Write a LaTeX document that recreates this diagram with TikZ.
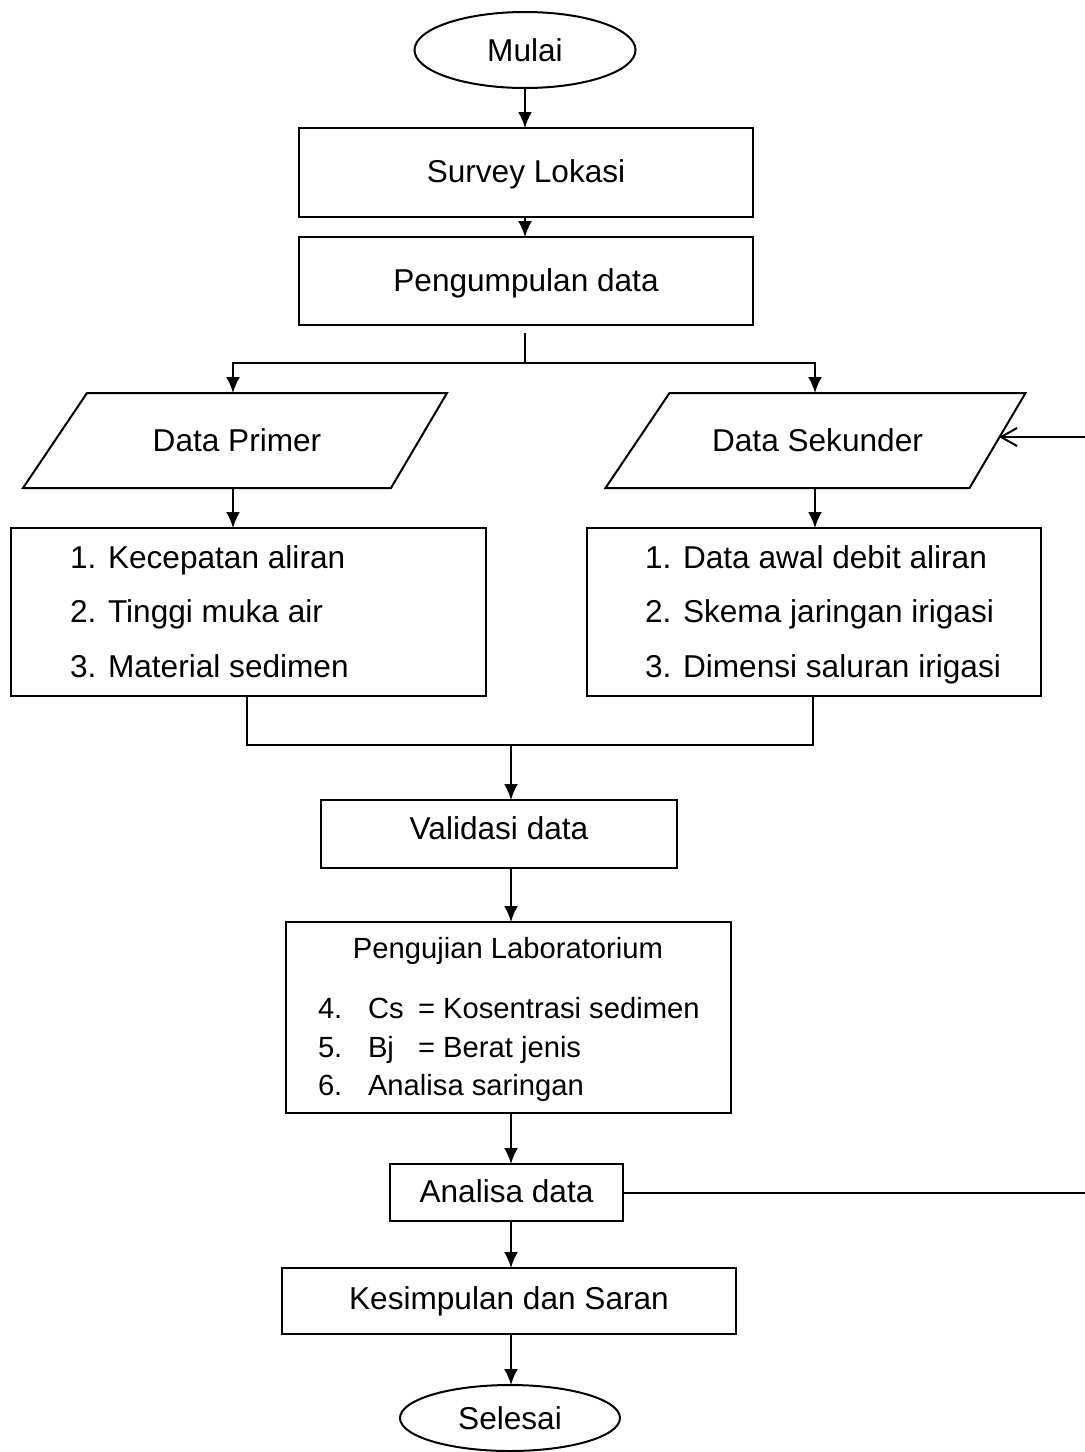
\documentclass[tikz,border=0pt]{standalone}
\usepackage{fontspec}
\setmainfont{Liberation Sans}
\usetikzlibrary{shapes.geometric,arrows.meta,calc}
\begin{document}
\begin{tikzpicture}[x=0.5pt,y=-0.5pt,
  every node/.style={inner sep=0pt,outer sep=0pt},
  box/.style={draw,line width=1pt,rectangle,font=\fontsize{15.8pt}{19pt}\selectfont,text height=12pt,text depth=2pt},
  term/.style={draw,line width=1pt,ellipse,font=\fontsize{15.8pt}{19pt}\selectfont},
  para/.style={rectangle,minimum height=47.5pt,font=\fontsize{15.8pt}{19pt}\selectfont},
  txt/.style={anchor=west,font=\fontsize{15.8pt}{19pt}\selectfont,text height=12pt,text depth=2pt},
  labtxt/.style={anchor=west,font=\fontsize{14.6pt}{18pt}\selectfont,text height=10.5pt,text depth=2pt},
  line/.style={line width=1pt},
  arr/.style={line width=1pt,-{Latex[length=8pt,width=7pt]}},
  barb/.style={line width=1pt,-{Straight Barb[length=8pt,width=9pt]}}]
\useasboundingbox (0,0) rectangle (1084,1452);

% terminals and boxes
\node[term,minimum width=110.5pt,minimum height=38pt] (mulai) at (525,50) {Mulai};
\node[box,minimum width=227pt,minimum height=44.5pt] (surv) at (526,172.5) {Survey Lokasi};
\node[box,minimum width=227pt,minimum height=44pt] (peng) at (526,281) {Pengumpulan data};

% parallelograms
\node[para,minimum width=182pt] (dp) at (237,440.5) {Data Primer};
\draw[line] ($(dp.north west)+(32,0)$) -- ($(dp.north east)+(28,0)$) -- ($(dp.south east)+(-28,0)$) -- ($(dp.south west)+(-32,0)$) -- cycle;
\node[para,minimum width=180pt] (ds) at (817.5,440.5) {Data Sekunder};
\draw[line] ($(ds.north west)+(32,0)$) -- ($(ds.north east)+(28,0)$) -- ($(ds.south east)+(-28,0)$) -- ($(ds.south west)+(-32,0)$) -- cycle;

% list boxes
\node[box,minimum width=237.5pt,minimum height=84pt] (prim) at (248.5,612) {};
\node[txt] (p1) at (70,558) {1. Kecepatan aliran};
\node[txt] (p2) at (70,612) {2. Tinggi muka air};
\node[txt] (p3) at (70,667) {3. Material sedimen};
\node[box,minimum width=227pt,minimum height=84pt] (sek) at (814,612) {};
\node[txt] (k1) at (645,558) {1. Data awal debit aliran};
\node[txt] (k2) at (645,612) {2. Skema jaringan irigasi};
\node[txt] (k3) at (645,667) {3. Dimensi saluran irigasi};

\node[box,minimum width=178pt,minimum height=34pt,text depth=7pt] (val) at (499,834) {Validasi data};

% lab box
\node[box,minimum width=222.5pt,minimum height=95.5pt] (lab) at (508.5,1017.5) {};
\node[labtxt,anchor=center] (lt) at (508,950) {Pengujian Laboratorium};
\node[labtxt] (l1a) at (318,1010) {4.};
\node[labtxt] (l1b) at (368,1010) {Cs};
\node[labtxt] (l1c) at (418,1010) {= Kosentrasi sedimen};
\node[labtxt] (l2a) at (318,1049) {5.};
\node[labtxt] (l2b) at (368,1049) {Bj};
\node[labtxt] (l2c) at (418,1049) {= Berat jenis};
\node[labtxt] (l3a) at (318,1087) {6.};
\node[labtxt] (l3b) at (368,1087) {Analisa saringan};

\node[box,minimum width=116.5pt,minimum height=28.5pt] (ana) at (506.5,1192.5) {Analisa data};
\node[box,minimum width=227pt,minimum height=33pt,text depth=4pt] (kes) at (509,1301) {Kesimpulan dan Saran};
\node[term,minimum width=110pt,minimum height=33pt] (sel) at (510,1418) {Selesai};

% helper coordinates
\coordinate (s0) at (525,333);
\coordinate (s1) at (233,363);
\coordinate (s2) at (815,363);
\coordinate (m1) at (247,745);
\coordinate (m2) at (813,745);
\coordinate (colB) at (511,0);
\coordinate (fbR) at (1092,437);
\coordinate (dsR) at (999,437);

% connectors
\draw[arr] (mulai.south -| s0) -- (surv.north -| s0);
\draw[arr] (surv.south -| s0) -- (peng.north -| s0);
\draw[line] (s0) -- (s0 |- s1);
\draw[arr] (s0 |- s1) -| (s1 |- dp.north);
\draw[arr] (s0 |- s2) -| (s2 |- ds.north);
\draw[arr] (dp.south -| s1) -- (prim.north -| s1);
\draw[arr] (ds.south -| s2) -- (sek.north -| s2);
\draw[line] (prim.south -| m1) -- (m1) -- (m2) -- (sek.south -| m2);
\draw[arr] (m1 -| colB) -- (val.north -| colB);
\draw[arr] (val.south -| colB) -- (lab.north -| colB);
\draw[arr] (lab.south -| colB) -- (ana.north -| colB);
\draw[arr] (ana.south -| colB) -- (kes.north -| colB);
\draw[arr] (kes.south -| colB) -- (sel.north -| colB);
\draw[barb] (ana.east) -| (fbR) -- (dsR);
\end{tikzpicture}
\end{document}
